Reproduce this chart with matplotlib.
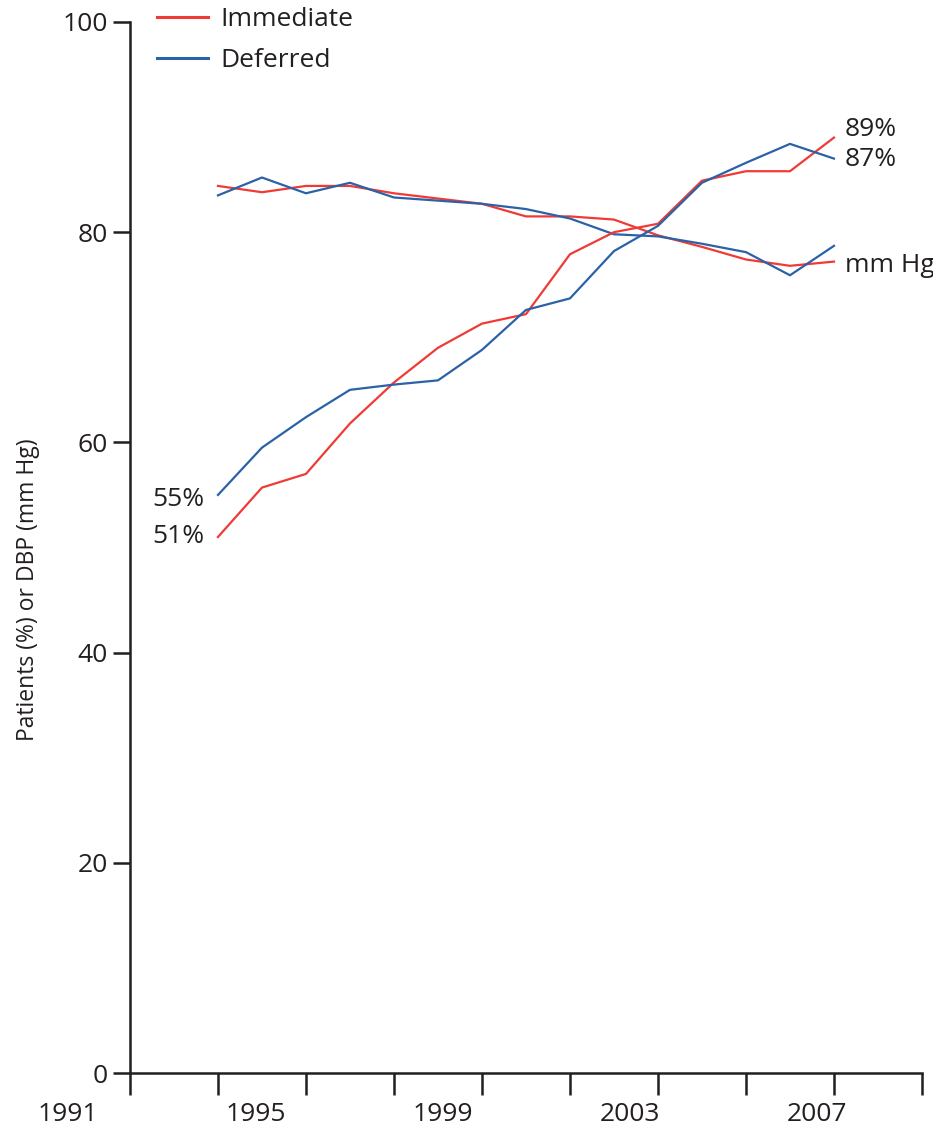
import matplotlib
matplotlib.use('Agg')
import matplotlib.pyplot as plt
from matplotlib.lines import Line2D

plt.rcParams['font.family'] = ['Open Sans', 'DejaVu Sans']

RED = '#f03a36'
BLUE = '#2b62a7'
INK = '#231f20'

years = list(range(1993, 2008))

# diastolic blood pressure, mm Hg
dbp_immediate = [84.4, 83.8, 84.4, 84.4, 83.7, 83.2, 82.7, 81.5, 81.5, 81.2, 79.7, 78.6, 77.4, 76.8, 77.2]
dbp_deferred = [83.5, 85.2, 83.7, 84.7, 83.3, 83.0, 82.7, 82.2, 81.3, 79.8, 79.6, 78.9, 78.1, 75.9, 78.7]

# patients at target, %
pct_immediate = [51, 55.7, 57.0, 61.8, 65.7, 69.0, 71.3, 72.2, 77.9, 80.0, 80.8, 84.9, 85.8, 85.8, 89]
pct_deferred = [55, 59.5, 62.4, 65.0, 65.5, 65.9, 68.8, 72.6, 73.7, 78.2, 80.6, 84.7, 86.6, 88.4, 87]

year_labels = [1991, 1995, 1999, 2003, 2007]
y_ticks = [0, 20, 40, 60, 80, 100]

fig = plt.figure(figsize=(9.33, 11.32), dpi=100)
ax = fig.add_axes([0.1393, 0.0521, 0.8489, 0.9285])

lw = 1.6
ax.plot(years, dbp_immediate, color=RED, lw=lw)
ax.plot(years, dbp_deferred, color=BLUE, lw=lw)
ax.plot(years, pct_immediate, color=RED, lw=lw)
ax.plot(years, pct_deferred, color=BLUE, lw=lw)

ax.set_xlim(1991, 2009)
ax.set_ylim(0, 100)
ax.spines['top'].set_visible(False)
ax.spines['right'].set_visible(False)
for s in ('left', 'bottom'):
    ax.spines[s].set_linewidth(1.8)
    ax.spines[s].set_color(INK)

ax.set_xticks(range(1991, 2010, 2))
ax.set_xticklabels([])
ax.tick_params(axis='x', length=16, width=1.8, color=INK)
ax.set_yticks(y_ticks)
ax.set_yticklabels([str(v) for v in y_ticks], fontsize=19, color=INK)
ax.tick_params(axis='y', length=12, width=1.8, color=INK, pad=4)

# year labels sit on their own spacing under the axis
for i, yr in enumerate(year_labels):
    ax.text(-0.078 + i * 0.2364, -0.039, str(yr), transform=ax.transAxes,
            ha='center', va='center', fontsize=19, color=INK)

ax.set_ylabel('Patients (%) or DBP (mm Hg)', fontsize=16.5, color=INK)
ax.yaxis.set_label_coords(-0.113, 0.46)

# end-point labels
def end_label(text, x, y, dx, dy, ha):
    ax.annotate(text, (x, y), xytext=(dx, dy), textcoords='offset points',
                ha=ha, va='center', fontsize=19, color=INK, annotation_clip=False)

end_label(f'{pct_deferred[0]}%', years[0], pct_deferred[0], -10, -3, 'right')
end_label(f'{pct_immediate[0]}%', years[0], pct_immediate[0], -10, 0, 'right')
end_label(f'{pct_immediate[-1]}%', years[-1], pct_immediate[-1], 8, 6, 'left')
end_label(f'{pct_deferred[-1]}%', years[-1], pct_deferred[-1], 8, -1, 'left')
end_label('mm Hg', years[-1], dbp_immediate[-1], 8, -3, 'left')

handles = [Line2D([], [], color=RED, lw=2.2), Line2D([], [], color=BLUE, lw=2.2)]
leg = fig.legend(handles, ['Immediate', 'Deferred'], loc='upper left',
                 bbox_to_anchor=(0.168, 0.994), frameon=False, fontsize=19,
                 handlelength=1.95, handletextpad=0.45, labelspacing=0.62,
                 borderaxespad=0, borderpad=0)
for t in leg.get_texts():
    t.set_color(INK)

fig.savefig('out.png', dpi=100)
